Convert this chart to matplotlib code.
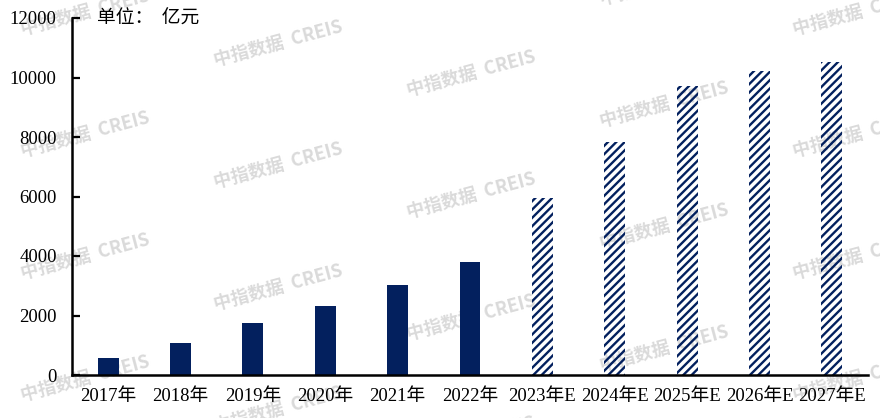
import matplotlib
matplotlib.use("Agg")
import matplotlib.pyplot as plt
import numpy as np

categories = ["2017年", "2018年", "2019年", "2020年", "2021年", "2022年",
              "2023年E", "2024年E", "2025年E", "2026年E", "2027年E"]
values = [570, 1070, 1750, 2320, 3020, 3800, 5950, 7830, 9720, 10220, 10520]
is_estimate = [False] * 6 + [True] * 5
y_ticks = [0, 2000, 4000, 6000, 8000, 10000, 12000]
unit_label = "单位：  亿元"
watermark = "中指数据  CREIS"

navy = "#03205e"
plt.rcParams['font.family'] = ['Liberation Serif', 'Noto Sans CJK SC']
plt.rcParams['hatch.linewidth'] = 1.7

W, H = 880, 418
fig = plt.figure(figsize=(W / 100, H / 100), dpi=100)
ax = fig.add_axes([72 / W, (H - 375) / H, (868 - 72) / W, (375 - 18) / H])
ax.patch.set_alpha(0)
ax.set_zorder(1)

x = np.arange(len(categories))
for xi, v, est in zip(x, values, is_estimate):
    if est:
        ax.bar(xi, v, width=0.29, facecolor="none", edgecolor=navy,
               hatch="////", linewidth=0, zorder=3)
    else:
        ax.bar(xi, v, width=0.29, color=navy, linewidth=0, zorder=3)

ax.set_xlim(-0.5, len(categories) - 0.5)
ax.set_ylim(0, 12000)
ax.set_yticks(y_ticks)
ax.set_yticklabels([str(t) for t in y_ticks])
ax.set_xticks(x)
ax.set_xticklabels(categories)

for s in ["top", "right"]:
    ax.spines[s].set_visible(False)
for s in ["left", "bottom"]:
    ax.spines[s].set_linewidth(1.8)
    ax.spines[s].set_color("black")
    ax.spines[s].set_zorder(4)

ax.tick_params(axis="y", direction="in", length=6, width=1.6, pad=11,
               labelsize=13.5, colors="black")
ax.tick_params(axis="x", length=0, pad=9, labelsize=13.5, colors="black")

fig.text(97 / W, 1 - 18 / H, unit_label, fontsize=13.5, va="center", ha="left",
         family=['Noto Sans CJK SC'], zorder=5)

# watermarks (behind the plot)
for c in range(5):
    for k in range(-1, 4):
        cx = 85 + 193 * c
        cy = 13 + 30.5 * c + 122 * k
        if -30 < cy < H + 30:
            fig.text(cx / W, 1 - cy / H, watermark, fontsize=13, color="#dadada",
                     rotation=15, ha="center", va="center", fontweight="bold",
                     family=['Noto Sans CJK SC'], zorder=-1)

fig.savefig("out.png", dpi=100)
